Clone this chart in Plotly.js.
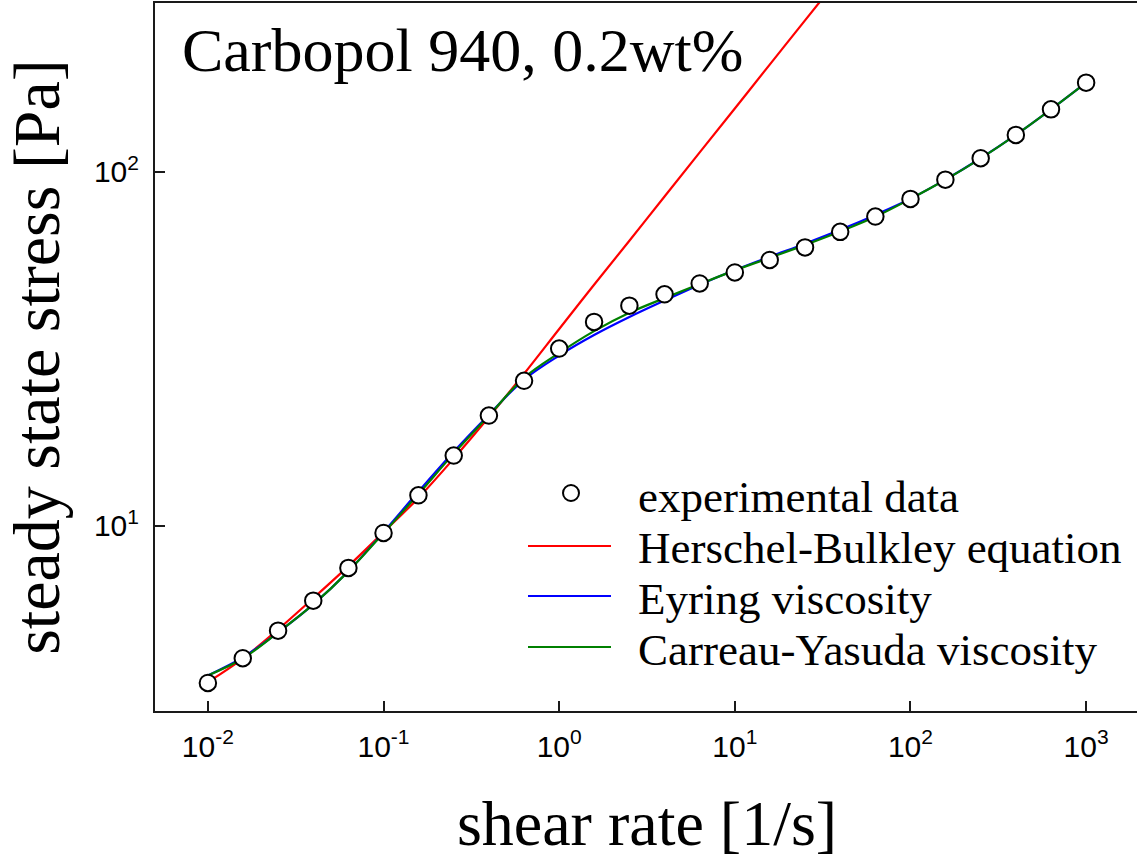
<!DOCTYPE html>
<html>
<head>
<meta charset="utf-8">
<script src="https://cdn.plot.ly/plotly-3.0.1.min.js"></script>
<style>
  html, body { margin: 0; padding: 0; background: #fff; overflow: hidden; }
  #chart { width: 1141px; height: 861px; }
</style>
</head>
<body>
<div id="chart"></div>
<script>
// ---- data ----
const shearRate = [0.01, 0.0158, 0.0251, 0.0398, 0.0631, 0.1, 0.158, 0.251, 0.398, 0.631,
                   1, 1.58, 2.51, 3.98, 6.31, 10, 15.8, 25.1, 39.8, 63.1,
                   100, 158, 251, 398, 631, 1000];
const stressExperimental = [3.60, 4.23, 5.06, 6.15, 7.61, 9.55, 12.2, 15.8, 20.5, 25.7,
                            31.7, 37.7, 41.9, 45.1, 48.4, 52.0, 56.4, 61.2, 67.7, 74.8,
                            83.9, 95.1, 109.3, 127.2, 150.2, 178.7];

const hbRate = [0.01, 0.0158, 0.0251, 0.0398, 0.0631, 0.1, 0.158, 0.251, 0.398, 0.631,
                1, 1.58, 2.51, 3.98, 6.31, 10, 15.8, 25.1, 31.6];
const stressHerschelBulkley = [3.62, 4.22, 5.1, 6.25, 7.7, 9.6, 12.0, 15.5, 20.3, 26.9,
                               36.0, 48.0, 63.9, 85.2, 113.5, 151, 201, 268, 309];

const stressEyring = [3.78, 4.25, 5.0, 6.0, 7.45, 9.6, 12.5, 16.2, 20.6, 25.9,
                      30.3, 34.6, 38.9, 43.3, 48.0, 52.8, 57.6, 62.7, 68.6, 75.6,
                      84.0, 95.1, 109.3, 127.2, 150.2, 178.7];
const stressCarreauYasuda = [3.78, 4.22, 5.0, 6.0, 7.44, 9.55, 12.3, 16.0, 20.5, 26.2,
                             30.8, 35.5, 40.0, 44.0, 48.2, 52.7, 57.2, 62.2, 67.9, 74.7,
                             83.9, 95.0, 109.2, 127.2, 150.2, 178.7];

const seriesNames = ['experimental data', 'Herschel-Bulkley equation', 'Eyring viscosity', 'Carreau-Yasuda viscosity'];
const xTickVals = [0.01, 0.1, 1, 10, 100, 1000];
const xTickText = ['10<sup>-2</sup>', '10<sup>-1</sup>', '10<sup>0</sup>', '10<sup>1</sup>', '10<sup>2</sup>', '10<sup>3</sup>'];
const yTickVals = [10, 100];
const yTickText = ['10<sup>1</sup>', '10<sup>2</sup>'];
const chartLabel = 'Carbopol 940, 0.2wt%';

// ---- styling ----
const serif = 'Liberation Serif, Times New Roman, serif';
const sans = 'Liberation Sans, Arial, sans-serif';
const colRed = '#ff0000', colBlue = '#0000ff', colGreen = '#008000';

const traces = [
  { x: hbRate, y: stressHerschelBulkley, name: seriesNames[1], mode: 'lines',
    line: { color: colRed, width: 2.2, shape: 'spline' } },
  { x: shearRate, y: stressEyring, name: seriesNames[2], mode: 'lines',
    line: { color: colBlue, width: 2.2, shape: 'spline' } },
  { x: shearRate, y: stressCarreauYasuda, name: seriesNames[3], mode: 'lines',
    line: { color: colGreen, width: 2.2, shape: 'spline' } },
  { x: shearRate, y: stressExperimental, name: seriesNames[0], mode: 'markers',
    marker: { symbol: 'circle', size: 16.5, color: '#ffffff', line: { color: '#000000', width: 2 } } }
];

// plot-area pixel geometry helpers for legend placement (paper coords)
const L = 155, W = 984, T = 3, H = 708;
const px = v => (v - L) / W;
const py = v => (T + H - v) / H;

const legendRowsY = [497, 548, 599, 650];
const legendLineY = [546, 596, 647];
const legendColors = [colRed, colBlue, colGreen];

const shapes = [
  { type: 'circle', xref: 'paper', yref: 'paper', xsizemode: 'pixel', ysizemode: 'pixel',
    xanchor: px(571), yanchor: py(493), x0: -8, x1: 8, y0: -8, y1: 8,
    fillcolor: '#ffffff', line: { color: '#000000', width: 2 } }
];
legendLineY.forEach((yy, i) => {
  shapes.push({ type: 'line', xref: 'paper', yref: 'paper',
    x0: px(528), x1: px(611), y0: py(yy), y1: py(yy),
    line: { color: legendColors[i], width: 2.2 } });
});

const annotations = [
  { text: chartLabel, xref: 'paper', yref: 'paper', x: px(180), y: py(50),
    xanchor: 'left', yanchor: 'middle', showarrow: false,
    font: { family: serif, size: 62, color: '#000' } }
];
seriesNames.forEach((nm, i) => {
  annotations.push({ text: nm, xref: 'paper', yref: 'paper', x: px(636), y: py(legendRowsY[i]),
    xanchor: 'left', yanchor: 'middle', showarrow: false,
    font: { family: serif, size: 45, color: '#000' } });
});

const layout = {
  width: 1141, height: 861,
  margin: { l: L, r: 1141 - L - W, t: T, b: 861 - T - H },
  paper_bgcolor: '#ffffff', plot_bgcolor: '#ffffff',
  showlegend: false,
  xaxis: {
    type: 'log', range: [Math.log10(0.005), Math.log10(2000)],
    tickmode: 'array', tickvals: xTickVals, ticktext: xTickText,
    ticks: 'inside', ticklen: 10, tickwidth: 2, tickcolor: '#1a1a1a',
    showline: true, linewidth: 2, linecolor: '#1a1a1a', mirror: true,
    showgrid: false, zeroline: false,
    ticklabelstandoff: 8,
    tickfont: { family: sans, size: 30, color: '#000' },
    title: { text: 'shear rate [1/s]', standoff: 38, font: { family: serif, size: 64, color: '#000' } }
  },
  yaxis: {
    type: 'log', range: [Math.log10(3), Math.log10(300)],
    tickmode: 'array', tickvals: yTickVals, ticktext: yTickText,
    ticks: 'inside', ticklen: 10, tickwidth: 2, tickcolor: '#1a1a1a',
    showline: true, linewidth: 2, linecolor: '#1a1a1a', mirror: true,
    showgrid: false, zeroline: false,
    ticklabelstandoff: 8,
    tickfont: { family: sans, size: 30, color: '#000' },
    title: { text: 'steady state stress [Pa]', standoff: 31, font: { family: serif, size: 66, color: '#000' } }
  },
  shapes: shapes,
  annotations: annotations
};

Plotly.newPlot('chart', traces, layout, { displayModeBar: false, staticPlot: true });
</script>
</body>
</html>
